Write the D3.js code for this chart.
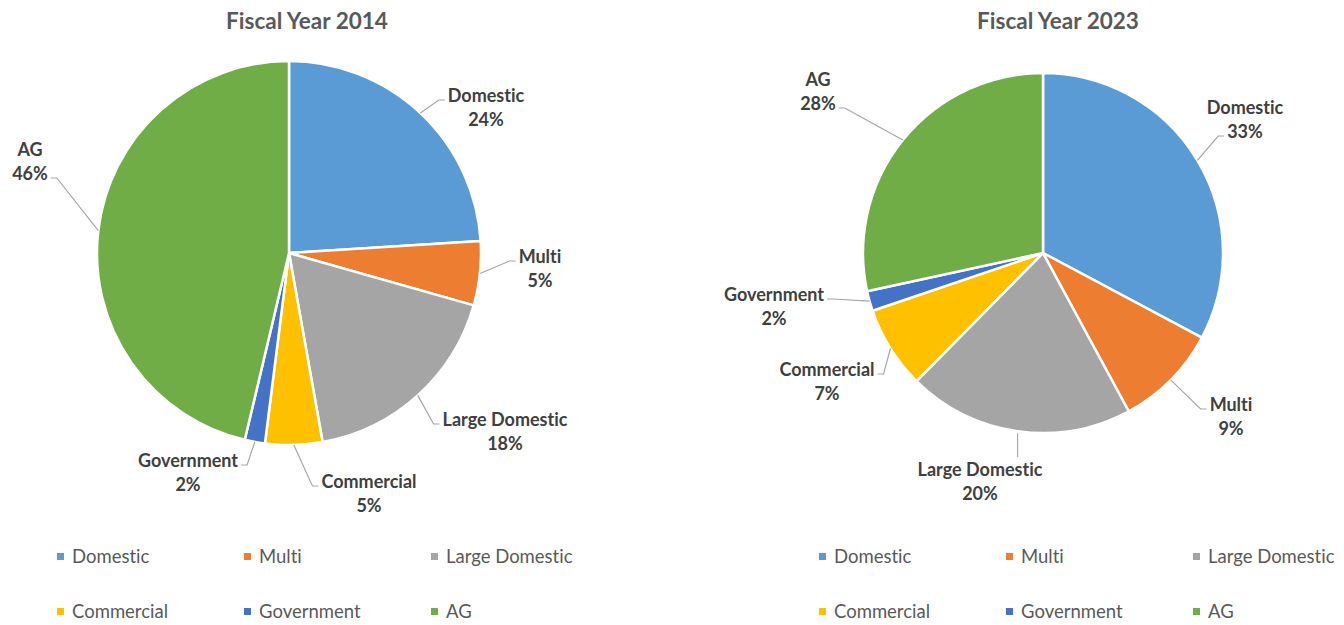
<!DOCTYPE html>
<html><head><meta charset="utf-8">
<script src="https://cdn.jsdelivr.net/npm/d3@7"></script>
<style>body{margin:0;background:#fff} svg{display:block} text{font-variant-ligatures:none;font-feature-settings:"liga" 0}</style>
</head><body><svg id="c" width="1344" height="625"></svg>
<script>
// ---- data ----
const categories = ["Domestic", "Multi", "Large Domestic", "Commercial", "Government", "AG"];
const values2014 = [24.0, 5.4, 17.8, 4.8, 1.7, 46.3];
const values2023 = [32.8, 9.3, 20.3, 7.4, 1.8, 28.4];
const titles = ["Fiscal Year 2014", "Fiscal Year 2023"];
const colors = ["#5B9BD5", "#ED7D31", "#A5A5A5", "#FFC000", "#4472C4", "#70AD47"];

// ---- layout ----
const FONT = "Lato, 'Open Sans', sans-serif";
const charts = [
  { title: titles[0], values: values2014, cx: 289, cy: 253, r: 192, titleX: 307, legendX: 57,
    labelOff: [[197,-145],[251,16],[216,179],[80,241],[-101,220],[-259,-91]],
    attachLine: [0,0,0,0,0,1] },
  { title: titles[1], values: values2023, cx: 1043, cy: 253, r: 180, titleX: 1058, legendX: 819,
    labelOff: [[202,-133],[188,164],[-63,229],[-216,129],[-269,54],[-225,-161]],
    attachLine: [1,0,0,0,0,1] }
];

const svg = d3.select("#c");
svg.append("rect").attr("width", 1344).attr("height", 625).attr("fill", "#fff");
const color = d3.scaleOrdinal().domain(categories).range(colors);
const pie = d3.pie().sort(null).value(d => d.value);

charts.forEach(ch => {
  const data = categories.map((c, i) => ({ cat: c, value: ch.values[i], idx: i }));
  const arcs = pie(data);
  const total = d3.sum(ch.values);
  const arc = d3.arc().innerRadius(0).outerRadius(ch.r);

  svg.append("text").attr("x", ch.titleX).attr("y", 21).attr("dy", "0.35em")
    .attr("text-anchor", "middle").attr("font-family", FONT).attr("font-weight", 700)
    .attr("font-size", 22.5).attr("fill", "#595959").text(ch.title);

  const g = svg.append("g").attr("transform", `translate(${ch.cx},${ch.cy})`);
  g.selectAll("path.slice").data(arcs).join("path").attr("class", "slice")
    .attr("d", arc).attr("fill", d => color(d.data.cat))
    .attr("stroke", "#fff").attr("stroke-width", 2.5).attr("stroke-linejoin", "round");

  // labels
  const lg = svg.append("g");
  arcs.forEach((a, i) => {
    const mid = (a.startAngle + a.endAngle) / 2;
    const ex = ch.cx + ch.r * Math.sin(mid), ey = ch.cy - ch.r * Math.cos(mid);
    const lx = ch.cx + ch.labelOff[i][0], ly = ch.cy + ch.labelOff[i][1];
    const lines = [a.data.cat, Math.round(a.data.value / total * 100) + "%"];
    const tEls = lines.map((s, k) => lg.append("text").attr("x", lx).attr("y", ly + (k === 0 ? -12 : 12))
      .attr("dy", "0.35em").attr("text-anchor", "middle").attr("font-family", FONT)
      .attr("font-weight", 700).attr("font-size", 18).attr("fill", "#404040").text(s));
    const k = ch.attachLine[i];
    const w = tEls[k].node().getComputedTextLength();
    const w0 = tEls[0].node().getComputedTextLength();
    let pts;
    if (Math.abs(lx - ex) < w0 / 2 && ly > ey) {
      pts = [[ex, ey + 2], [ex, ly - 25]];
    } else {
      const ay = ly + (k === 0 ? -12 : 12) + 4;
      if (lx > ex) {
        const ax = lx - w / 2 - 3;
        pts = [[ex, ey], [ax - 6, ay], [ax, ay]];
      } else {
        const ax = lx + w / 2 + 3;
        pts = [[ex, ey], [ax + 6, ay], [ax, ay]];
      }
    }
    lg.insert("path", "text").attr("d", d3.line()(pts)).attr("fill", "none")
      .attr("stroke", "#A6A6A6").attr("stroke-width", 1.2);
  });

  // legend
  const leg = svg.append("g");
  categories.forEach((c, i) => {
    const col = i % 3, row = Math.floor(i / 3);
    const x = ch.legendX + col * 187, y = 557 + row * 55;
    leg.append("rect").attr("x", x).attr("y", y - 4).attr("width", 7).attr("height", 7).attr("fill", color(c));
    leg.append("text").attr("x", x + 15).attr("y", y).attr("dy", "0.35em")
      .attr("font-family", FONT).attr("font-size", 18.5).attr("fill", "#595959").text(c);
  });
});
</script></body></html>
